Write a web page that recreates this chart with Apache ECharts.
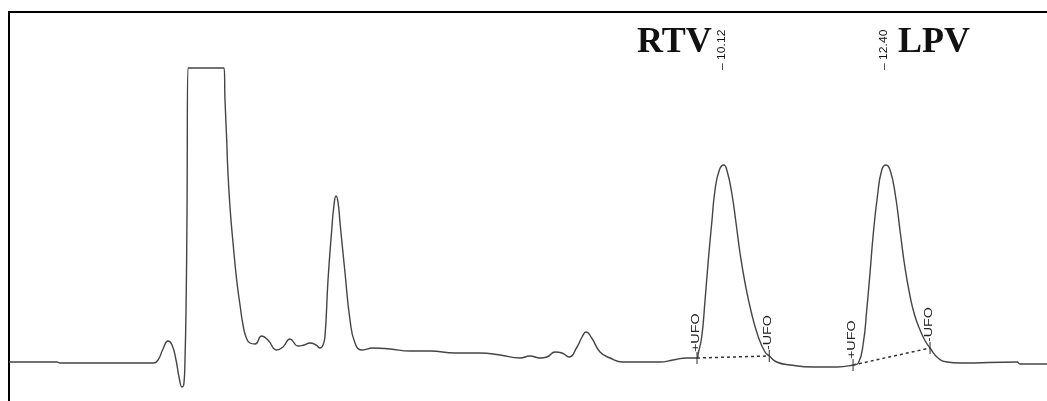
<!DOCTYPE html>
<html>
<head>
<meta charset="utf-8">
<script src="https://cdn.jsdelivr.net/npm/echarts@6/dist/echarts.min.js"></script>
<style>
  html, body { margin: 0; padding: 0; background: #ffffff; }
  #chart { width: 1047px; height: 401px; }
</style>
</head>
<body>
<div id="chart"></div>
<script>
// Retention-time window (min) and detector range on screen
const timeRange = [0.08, 14.66];
const signalRange = [-38, 351];

// Chromatogram trace: retention time (min) and detector response
const times = [
  0.08, 0.754, 0.796, 2.103, 2.173, 2.243, 2.313, 2.370, 2.426, 2.468,
  2.510, 2.538, 2.552, 2.566, 2.580, 2.594, 3.100, 3.114, 3.138, 3.152,
  3.184, 3.227, 3.278, 3.325, 3.367, 3.409, 3.465, 3.536, 3.630, 3.718,
  3.840, 3.929, 4.027, 4.140, 4.224, 4.308, 4.392, 4.449, 4.491, 4.519,
  4.561, 4.613, 4.645, 4.673, 4.701, 4.730, 4.800, 4.870, 4.940, 5.034,
  5.193, 5.432, 5.713, 5.994, 6.345, 6.696, 6.977, 7.258, 7.398, 7.539,
  7.637, 7.750, 7.848, 7.946, 8.059, 8.129, 8.186, 8.265, 8.382, 8.522,
  8.705, 8.944, 9.225, 9.407, 9.604, 9.744, 9.762, 9.810, 9.857, 9.903,
  9.951, 9.997, 10.058, 10.12, 10.170, 10.232, 10.292, 10.348, 10.419, 10.499,
  10.605, 10.699, 10.760, 10.864, 11.051, 11.374, 11.711, 11.936, 12.010, 12.080,
  12.128, 12.174, 12.221, 12.277, 12.339, 12.40, 12.460, 12.530, 12.600, 12.666,
  12.736, 12.800, 12.877, 12.950, 13.017, 13.130, 13.256, 13.439, 14.239, 14.281,
  14.66
];
const signal = [
  1, 1, 0, 0, 3, 14, 22, 18, 3, -14,
  -24, -20, 3, 50, 146, 295, 295, 263, 223, 196,
  156, 120, 83, 58, 38, 26, 20, 19, 27, 23,
  13, 16, 24, 17, 18, 20, 18, 15, 18, 27,
  83, 133, 158, 167, 161, 140, 90, 43, 20, 13,
  15, 14, 12, 12, 10, 10, 8, 5, 7, 5,
  6, 11, 10, 6, 16, 26, 31, 25, 11, 5,
  1, 1, 1, 3, 5, 5, 10, 26, 63, 103,
  140, 173, 193, 198, 191, 170, 140, 110, 80, 53,
  26, 11, 7, 1, -2, -4, -4, -2, 0, 20,
  53, 90, 130, 166, 193, 198, 192, 168, 130, 95,
  67, 48, 33, 22, 15, 5, 1, 0, 1, -1,
  -1
];

// Integrated peaks and their baseline limits
const peakNames = ['RTV', 'LPV'];
const peakTimes = [10.12, 12.40];
const peakTimeLabels = ['10.12', '12.40'];
const peakStartTimes = [9.744, 11.936];
const peakStartSignal = [5, -2];
const peakEndTimes = [10.760, 13.017];
const peakEndSignal = [7, 15];
const startMarkText = '+UFO';
const endMarkText = '-UFO';

const trace = times.map((t, i) => [t, signal[i]]);
const starts = peakStartTimes.map((t, i) => [t, peakStartSignal[i]]);
const ends = peakEndTimes.map((t, i) => [t, peakEndSignal[i]]);

const chart = echarts.init(document.getElementById('chart'), null, { renderer: 'canvas' });

const baselineSeries = peakNames.map((name, i) => ({
  name: name + ' baseline',
  type: 'line',
  data: [starts[i], ends[i]],
  symbol: 'none',
  silent: true,
  z: 3,
  lineStyle: { color: '#333333', width: 1.5, type: [3, 3] }
}));

chart.setOption({
  animation: false,
  backgroundColor: '#ffffff',
  grid: { left: 9, top: 12, right: 0, bottom: 0, containLabel: false },
  xAxis: {
    type: 'value',
    position: 'top',
    min: timeRange[0],
    max: timeRange[1],
    axisLine: { show: true, onZero: false, lineStyle: { color: '#000000', width: 2 } },
    axisTick: { show: false },
    axisLabel: { show: false },
    splitLine: { show: false }
  },
  yAxis: {
    type: 'value',
    min: signalRange[0],
    max: signalRange[1],
    axisLine: { show: true, onZero: false, lineStyle: { color: '#000000', width: 2 } },
    axisTick: { show: false },
    axisLabel: { show: false },
    splitLine: { show: false }
  },
  series: [
    {
      name: 'Detector',
      type: 'line',
      data: trace,
      symbol: 'none',
      smooth: 0.5,
      z: 4,
      lineStyle: { color: '#444444', width: 1.4 }
    },
    ...baselineSeries,
    {
      name: 'Peak limits',
      type: 'scatter',
      data: starts.concat(ends),
      symbol: 'rect',
      symbolSize: [1.3, 12],
      z: 5,
      itemStyle: { color: '#333333' }
    }
  ]
});

// Peak names, retention times and limit flags, placed through the grid's scales
const toPx = (t, v) => chart.convertToPixel({ gridIndex: 0 }, [t, v]);
const graphics = [];
const sansFont = '11px "Liberation Sans", Arial, sans-serif';

peakNames.forEach((name, i) => {
  const apex = toPx(peakTimes[i], 0);
  const side = i === 0 ? -1 : 1;
  graphics.push({
    type: 'text',
    x: apex[0] + side * 12,
    y: 43,
    silent: true,
    style: {
      text: name,
      font: 'bold 36px "Liberation Serif", "Times New Roman", serif',
      fill: '#111111',
      align: side < 0 ? 'right' : 'left',
      verticalAlign: 'middle'
    }
  });
  graphics.push({
    type: 'text',
    x: apex[0] - 2,
    y: 70,
    rotation: Math.PI / 2,
    scaleX: 1.1,
    silent: true,
    style: {
      text: '\u2013 ' + peakTimeLabels[i],
      font: sansFont,
      fill: '#111111',
      align: 'left',
      verticalAlign: 'middle'
    }
  });
  const s = toPx(starts[i][0], starts[i][1]);
  const e = toPx(ends[i][0], ends[i][1]);
  [[s, startMarkText], [e, endMarkText]].forEach(([p, txt]) => {
    graphics.push({
      type: 'text',
      x: p[0] - 1,
      y: p[1] - 6,
      rotation: Math.PI / 2,
      scaleX: 1.3,
      silent: true,
      style: {
        text: txt,
        font: sansFont,
        fill: '#222222',
        align: 'left',
        verticalAlign: 'middle'
      }
    });
  });
});

chart.setOption({ graphic: graphics });
</script>
</body>
</html>
